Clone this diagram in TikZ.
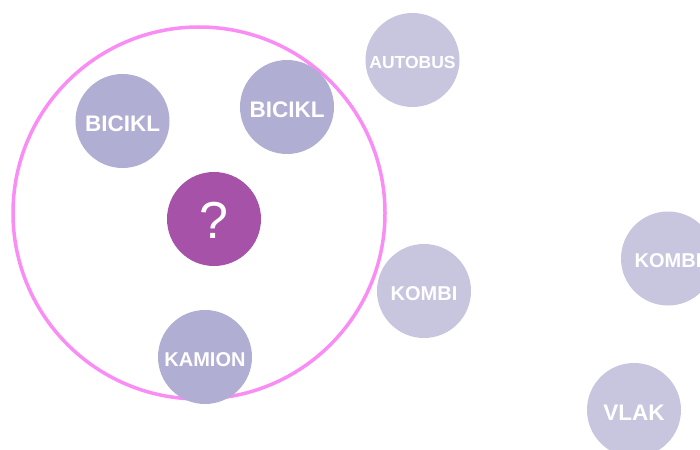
\documentclass[tikz,border=0pt]{standalone}
\usepackage{fontspec}
\setmainfont{Liberation Sans}
\definecolor{ringpink}{RGB}{250,140,246}
\definecolor{innerdot}{RGB}{176,174,211}
\definecolor{outerdot}{RGB}{200,197,223}
\definecolor{qdot}{RGB}{165,82,168}
\tikzset{
  ring/.style={circle,draw=ringpink,line width=3.5pt,minimum size=372pt,inner sep=0pt},
  dot/.style={circle,minimum size=94pt,inner sep=0pt,text=white,text depth=0pt,
    font=\bfseries\fontsize{20}{24}\selectfont,text height=18.5pt},
  bigtxt/.style={font=\bfseries\fontsize{22.5}{26}\selectfont,text height=20.3pt},
  smalltxt/.style={font=\bfseries\fontsize{17.5}{21}\selectfont,text height=16.5pt},
  indot/.style={dot,fill=innerdot},
  outdot/.style={dot,fill=outerdot},
  qnode/.style={dot,fill=qdot,font=\fontsize{52}{60}\selectfont,text height=39pt}
}
\begin{document}
\begin{tikzpicture}[x=1pt,y=-1pt]
\useasboundingbox (0,0) rectangle (700,449);
\node[ring] (group) at (199,213) {};
\node[indot,bigtxt] (b1) at (122.5,121) {BICIKL};
\node[indot,bigtxt] (b2) at (287,107) {BICIKL};
\node[qnode] (q) at (214,219) {?};
\node[indot] (kamion) at (205,357) {KAMION};
\node[outdot,smalltxt] (autobus) at (412.5,60) {AUTOBUS};
\node[outdot] (kombi1) at (424,291) {KOMBI};
\node[outdot] (kombi2) at (668,258.5) {KOMBI};
\node[outdot,bigtxt] (vlak) at (634,410) {VLAK};
\end{tikzpicture}
\end{document}
